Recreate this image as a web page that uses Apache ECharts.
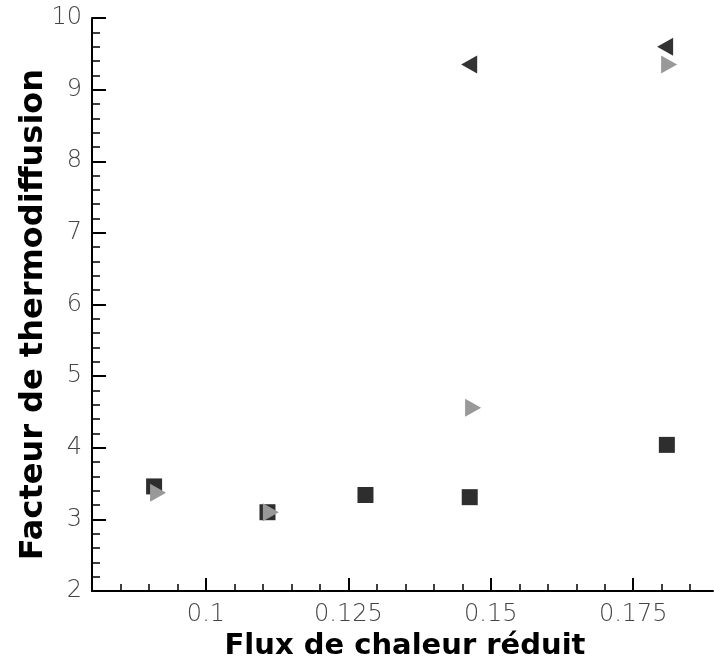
<!DOCTYPE html>
<html>
<head>
<meta charset="utf-8">
<script src="https://cdn.jsdelivr.net/npm/echarts@6/dist/echarts.min.js"></script>
<style>
html,body{margin:0;padding:0;background:#fff;}
#chart{width:714px;height:669px;}
</style>
</head>
<body>
<div id="chart"></div>
<script>
// Data
var squares = [[0.0909, 3.46], [0.1108, 3.10], [0.1280, 3.34], [0.1463, 3.31], [0.1809, 4.04]];
var leftTriangles = [[0.1462, 9.35], [0.1806, 9.60]];
var rightTriangles = [[0.0916, 3.37], [0.1114, 3.10], [0.1469, 4.56], [0.1813, 9.35]];
var xMajorTicks = [0.1, 0.125, 0.15, 0.175];
var xMinorTicks = [0.085, 0.09, 0.095, 0.105, 0.11, 0.115, 0.12, 0.13, 0.135, 0.14, 0.145, 0.155, 0.16, 0.165, 0.17, 0.18, 0.185];
var xTitle = 'Flux de chaleur réduit';
var yTitle = 'Facteur de thermodiffusion';

var labelFont = {fontFamily: 'DejaVu Sans', fontSize: 24, color: '#444', fontWeight: 200};
var titleFont = {fontFamily: 'DejaVu Sans', fontSize: 29, color: '#000', fontWeight: 'bold'};

var chart = echarts.init(document.getElementById('chart'), null, {renderer: 'canvas'});
chart.setOption({
  animation: false,
  backgroundColor: '#fff',
  grid: {left: 92, top: 18, right: 1, bottom: 78},
  xAxis: [{
    type: 'value', min: 0.08, max: 0.189,
    name: xTitle, nameLocation: 'middle', nameGap: 41,
    nameTextStyle: Object.assign({padding: [0, 0, 0, 5]}, titleFont),
    axisLine: {show: true, onZero: false, lineStyle: {color: '#000', width: 2}},
    axisTick: {show: true, inside: true, length: 13, customValues: xMajorTicks, lineStyle: {color: '#000', width: 2}},
    axisLabel: Object.assign({show: true, margin: 12, customValues: xMajorTicks}, labelFont),
    splitLine: {show: false}
  }, {
    type: 'value', min: 0.08, max: 0.189, position: 'bottom',
    axisLine: {show: false},
    axisTick: {show: true, inside: true, length: 7, customValues: xMinorTicks, lineStyle: {color: '#000', width: 1.5}},
    axisLabel: {show: false},
    splitLine: {show: false}
  }],
  yAxis: {
    type: 'value', min: 2, max: 10, interval: 1,
    name: yTitle, nameLocation: 'middle', nameGap: 42, nameRotate: 90, nameMoveOverlap: false,
    nameTextStyle: Object.assign({padding: [0, 20, 0, 0]}, titleFont, {fontSize: 32}),
    axisLine: {show: true, onZero: false, lineStyle: {color: '#000', width: 2}},
    axisTick: {show: true, inside: true, length: 14, lineStyle: {color: '#000', width: 2}},
    minorTick: {show: true, splitNumber: 5, length: 8, lineStyle: {color: '#000', width: 1.5}},
    axisLabel: Object.assign({margin: 10}, labelFont),
    splitLine: {show: false}
  },
  series: [{
    type: 'scatter', data: squares, symbol: 'rect', symbolSize: 16,
    itemStyle: {color: '#2e2e2e', opacity: 1}
  }, {
    type: 'scatter', data: leftTriangles, symbol: 'triangle', symbolSize: [18, 16], symbolRotate: 90,
    itemStyle: {color: '#333', opacity: 1}
  }, {
    type: 'scatter', data: rightTriangles, symbol: 'triangle', symbolSize: [18, 16], symbolRotate: -90,
    itemStyle: {color: '#999', opacity: 1}
  }]
});
</script>
</body>
</html>
